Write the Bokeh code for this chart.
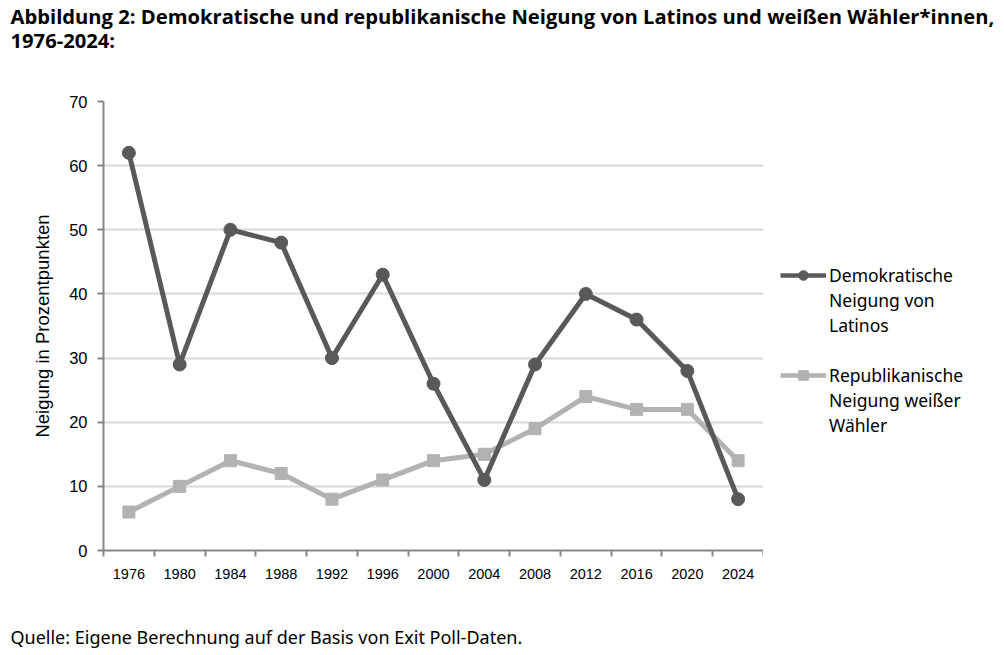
from bokeh.plotting import figure
from bokeh.layouts import column, row
from bokeh.models import (Range1d, FixedTicker, Label, Legend, LegendItem)
from bokeh.embed import file_html
from bokeh.resources import INLINE

years = ["1976", "1980", "1984", "1988", "1992", "1996", "2000", "2004",
         "2008", "2012", "2016", "2020", "2024"]
dem_latinos = [62, 29, 50, 48, 30, 43, 26, 11, 29, 40, 36, 28, 8]
rep_weisse = [6, 10, 14, 12, 8, 11, 14, 15, 19, 24, 22, 22, 14]
y_ticks = [0, 10, 20, 30, 40, 50, 60, 70]

title_lines = ["Abbildung 2: Demokratische und republikanische Neigung von Latinos und weißen Wähler*innen,",
               "1976-2024:"]
source_text = "Quelle: Eigene Berechnung auf der Basis von Exit Poll-Daten."
y_label = "Neigung in Prozentpunkten"
legend_dem = ["Demokratische", "Neigung von", "Latinos"]
legend_rep = ["Republikanische", "Neigung weißer", "Wähler"]

DARK = "#595959"
LIGHT = "#b2b2b2"
AXIS = "#878787"
GRID = "#d9d9d9"
FONT2 = "Noto Sans"
NAN = float("nan")

W = 1000
TOP_H, MID_H, BOT_H = 60, 540, 52
FL, FT, FR, FB = 103, 101, 763, 550   # frame edges in page pixels
xs = [i + 0.5 for i in range(len(years))]


def blank_fig(w, h):
    f = figure(width=w, height=h, output_backend="svg", toolbar_location=None,
               x_range=Range1d(0, w), y_range=Range1d(0, h),
               min_border=0, min_border_left=0, min_border_right=0,
               min_border_top=0, min_border_bottom=0)
    f.axis.visible = False
    f.grid.visible = False
    f.outline_line_color = None
    f.background_fill_color = "white"
    f.border_fill_color = "white"
    return f


# ---- title
top = blank_fig(W, TOP_H)
for i, t in enumerate(title_lines):
    top.add_layout(Label(x=10, y=TOP_H - (15 + 24 * i), x_units="screen", y_units="screen",
                         text=t, text_font="Open Sans", text_font_style="bold",
                         text_font_size="20.2px", text_baseline="middle", text_color="black"))

# ---- main chart
p = figure(width=FR, height=MID_H, output_backend="svg", toolbar_location=None,
           x_range=Range1d(0, len(years)), y_range=Range1d(0, 70),
           min_border_left=FL, min_border_right=0, min_border_top=FT - TOP_H,
           min_border_bottom=TOP_H + MID_H - FB)
p.outline_line_color = None
p.background_fill_color = "white"
p.border_fill_color = "white"

p.xaxis.ticker = FixedTicker(ticks=xs, minor_ticks=list(range(len(years) + 1)))
p.xaxis.major_label_overrides = {x: y for x, y in zip(xs, years)}
p.xaxis.major_tick_out = 0
p.xaxis.major_tick_in = 0
p.xaxis.minor_tick_out = 6
p.xaxis.minor_tick_in = 0
p.xaxis.minor_tick_line_color = AXIS
p.xaxis.minor_tick_line_width = 2
p.xaxis.axis_line_color = AXIS
p.xaxis.axis_line_width = 2
p.xaxis.major_label_text_font = "Liberation Sans"
p.xaxis.major_label_text_font_size = "14.5px"
p.xaxis.major_label_text_color = "black"
p.xaxis.major_label_standoff = 12
p.xgrid.grid_line_color = None

p.yaxis.ticker = FixedTicker(ticks=y_ticks)
p.yaxis.major_tick_out = 6
p.yaxis.major_tick_in = 0
p.yaxis.minor_tick_line_color = None
p.yaxis.major_tick_line_color = AXIS
p.yaxis.major_tick_line_width = 2
p.yaxis.axis_line_color = AXIS
p.yaxis.axis_line_width = 2
p.yaxis.major_label_text_font = "Liberation Sans"
p.yaxis.major_label_text_font_size = "16.5px"
p.yaxis.major_label_text_color = "black"
p.yaxis.major_label_standoff = 10
p.yaxis.axis_label = y_label
p.yaxis.axis_label_text_font = "Liberation Sans"
p.yaxis.axis_label_text_font_style = "normal"
p.yaxis.axis_label_text_font_size = "18.5px"
p.yaxis.axis_label_text_color = "black"
p.yaxis.axis_label_standoff = 13
p.ygrid.grid_line_color = GRID
p.ygrid.grid_line_width = 2

l2 = p.line(xs, rep_weisse, line_color=LIGHT, line_width=5)
m2 = p.scatter(xs, rep_weisse, marker="square", size=12, fill_color=LIGHT, line_color=LIGHT)
l1 = p.line(xs, dem_latinos, line_color=DARK, line_width=5)
m1 = p.scatter(xs, dem_latinos, marker="circle", size=13, fill_color=DARK, line_color=DARK)

# ---- legend panel (keys styled like the series)
LW = W - FR
leg = blank_fig(LW, MID_H)
k1l = leg.line([NAN], [NAN], line_color=DARK, line_width=4.5)
k1m = leg.scatter([NAN], [NAN], marker="circle", size=11, fill_color=DARK, line_color=DARK)
k2l = leg.line([NAN], [NAN], line_color=LIGHT, line_width=4.5)
k2m = leg.scatter([NAN], [NAN], marker="square", size=11, fill_color=LIGHT, line_color=LIGHT)
kb = leg.line([NAN], [NAN], line_alpha=0)
items = [LegendItem(label=legend_dem[0], renderers=[k1l, k1m]),
         LegendItem(label=legend_dem[1], renderers=[kb]),
         LegendItem(label=legend_dem[2], renderers=[kb]),
         LegendItem(label=" ", renderers=[kb]),
         LegendItem(label=legend_rep[0], renderers=[k2l, k2m]),
         LegendItem(label=legend_rep[1], renderers=[kb]),
         LegendItem(label=legend_rep[2], renderers=[kb])]
legend = Legend(items=items, location=(780 - FR, 113),
                orientation="vertical",
                glyph_width=46, glyph_height=24, label_height=24, spacing=1,
                padding=0, margin=0, label_standoff=3,
                border_line_color=None, background_fill_alpha=0,
                label_text_font=FONT2, label_text_font_size="17.5px",
                label_text_color="black")
leg.add_layout(legend, "center")

# ---- source
bot = blank_fig(W, BOT_H)
bot.add_layout(Label(x=10, y=TOP_H + MID_H + BOT_H - 636, x_units="screen", y_units="screen",
                     text=source_text, text_font=FONT2, text_font_size="18px",
                     text_baseline="middle", text_color="black"))

layout = column(top, row(p, leg, spacing=0), bot, spacing=0)
open("out.html", "w").write(file_html(layout, INLINE))
